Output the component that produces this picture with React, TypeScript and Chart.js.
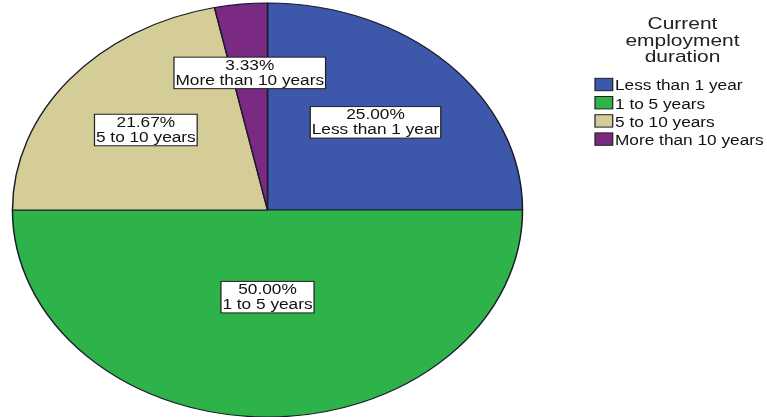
import React, { useEffect, useRef } from 'react';
import { Chart, registerables } from 'chart.js';

Chart.register(...registerables);

// ---- data ----
const categories = ['Less than 1 year', '1 to 5 years', '5 to 10 years', 'More than 10 years'];
const percentages = [25.0, 50.0, 21.67, 3.33];
const legendTitle = ['Current', 'employment', 'duration'];
const colors = ['#3d57ab', '#2db34a', '#d4cd97', '#7a2a82'];

// ---- styling ----
const SX = 1.232; // horizontal stretch of the whole picture
const FONT = '"Liberation Sans", Arial, sans-serif';
const labelRadius = [0.599, 0.421, 0.614, 0.666];
const CENTER_X = 267.5 / SX;

const stretchPlugin = {
  id: 'stretch',
  beforeDraw(chart: any) {
    const ctx = chart.ctx;
    ctx.save();
    ctx.scale(SX, 1);
  },
  afterDatasetsDraw(chart: any) {
    const ctx = chart.ctx;
    const meta = chart.getDatasetMeta(0);
    ctx.save();
    ctx.font = `14px ${FONT}`;
    ctx.textAlign = 'center';
    ctx.textBaseline = 'middle';
    meta.data.forEach((arc: any, i: number) => {
      const { x, y, startAngle, endAngle, outerRadius } = arc.getProps(
        ['x', 'y', 'startAngle', 'endAngle', 'outerRadius'],
        true
      );
      const mid = (startAngle + endAngle) / 2;
      const r = outerRadius * labelRadius[i];
      const cx = x + Math.cos(mid) * r;
      const cy = y + Math.sin(mid) * r;
      const lines = [percentages[i].toFixed(2) + '%', categories[i]];
      const w = Math.max(...lines.map((l) => ctx.measureText(l).width)) + 2.4;
      const lh = 15;
      const h = lh * 2 + 1.5;
      ctx.fillStyle = '#ffffff';
      ctx.fillRect(cx - w / 2, cy - h / 2, w, h);
      ctx.strokeStyle = '#222222';
      ctx.lineWidth = 1;
      ctx.strokeRect(cx - w / 2, cy - h / 2, w, h);
      ctx.fillStyle = '#111111';
      ctx.fillText(lines[0], cx, cy - lh / 2 + 0.5);
      ctx.fillText(lines[1], cx, cy + lh / 2 + 0.5);
    });
    ctx.restore();
  },
  afterDraw(chart: any) {
    const ctx = chart.ctx;
    // legend title
    ctx.save();
    ctx.fillStyle = '#222222';
    ctx.textAlign = 'center';
    ctx.textBaseline = 'alphabetic';
    ctx.font = `17px ${FONT}`;
    const titleX = 682.5 / SX;
    legendTitle.forEach((t, i) => {
      ctx.fillText(t, titleX, 29 + i * 16.5);
    });
    // legend items
    ctx.font = `14px ${FONT}`;
    ctx.textAlign = 'left';
    const swX = 595 / SX;
    const swW = 17.7 / SX;
    const txtX = 615 / SX;
    categories.forEach((c, i) => {
      const top = 78.3 + i * 18.2;
      ctx.fillStyle = colors[i];
      ctx.fillRect(swX, top, swW, 12.4);
      ctx.strokeStyle = '#222222';
      ctx.lineWidth = 1;
      ctx.strokeRect(swX, top, swW, 12.4);
      ctx.fillStyle = '#111111';
      ctx.fillText(c, txtX, top + 12);
    });
    ctx.restore();
    ctx.restore();
  },
};

export default function App() {
  const canvasRef = useRef<HTMLCanvasElement | null>(null);

  useEffect(() => {
    if (!canvasRef.current) return;
    const chart = new Chart(canvasRef.current, {
      type: 'pie',
      data: {
        labels: categories,
        datasets: [
          {
            data: percentages,
            backgroundColor: colors,
            borderColor: '#1a1a2a',
            borderWidth: 1.2,
            hoverOffset: 0,
          },
        ],
      },
      options: {
        animation: false,
        responsive: false,
        devicePixelRatio: 1,
        radius: 207,
        events: [],
        layout: {
          padding: { left: 0, right: 767 - 2 * CENTER_X, top: 3, bottom: 0 },
        },
        plugins: {
          legend: { display: false },
          tooltip: { enabled: false },
        },
      } as any,
      plugins: [stretchPlugin],
    });
    return () => chart.destroy();
  }, []);

  return (
    <div
      style={{
        position: 'fixed',
        left: 0,
        top: 0,
        width: 767,
        height: 417,
        background: '#ffffff',
        overflow: 'hidden',
      }}
    >
      <canvas ref={canvasRef} width={767} height={417} style={{ width: 767, height: 417 }} />
    </div>
  );
}
